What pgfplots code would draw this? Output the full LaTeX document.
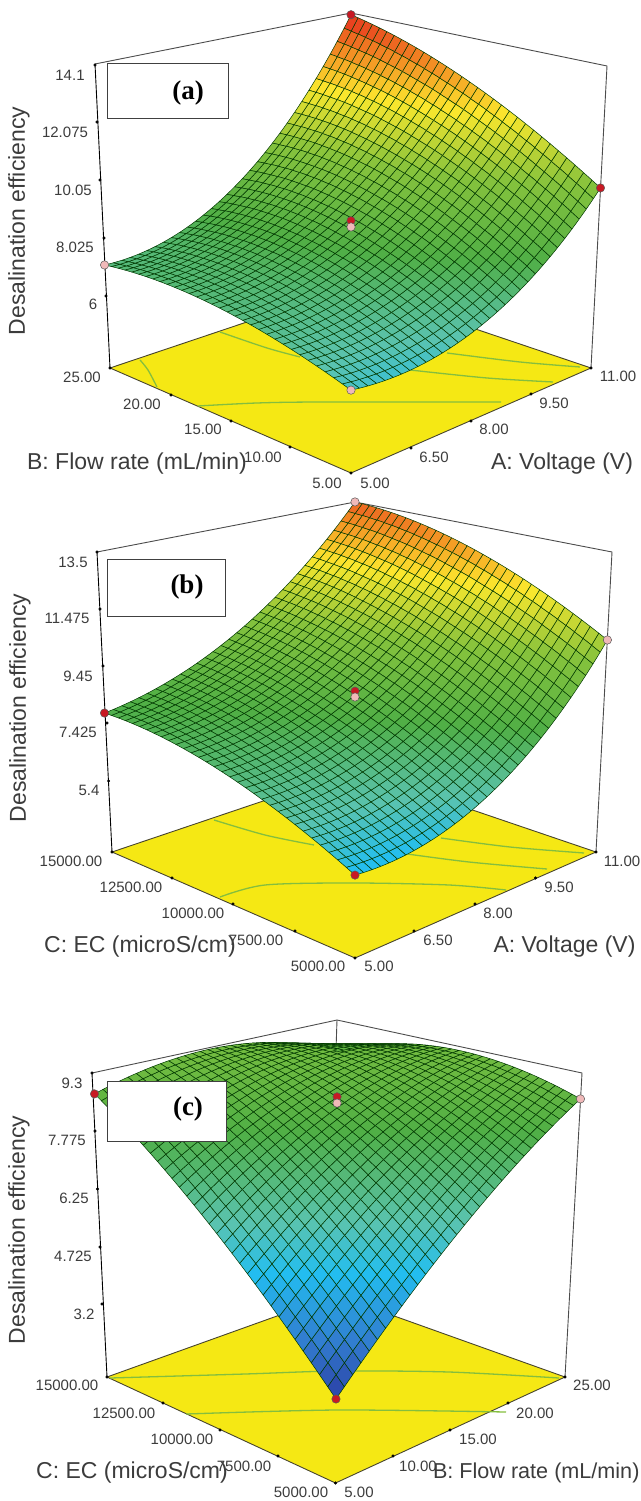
\documentclass[border=0pt]{standalone}
\usepackage{fontspec}
\setmainfont{Liberation Sans}
\newfontfamily\tnr{Liberation Serif}
\usepackage{pgfplots}
\usepackage{pgfplotstable}
\pgfplotsset{compat=1.18}
\usepgfplotslibrary{patchplots}

% ---- surface values: X, Y = factors, E = desalination efficiency (order: corners, edge middles, centre)
\pgfplotstableread{
X Y E
5 5 6.12
11 5 9.91
11 25 14.1
5 25 7.17
8 5 6.6
11 15 12.54
8 25 8.7
5 15 7.17
8 15 8.45
}\DataA
\pgfplotstableread{
X Y E
5 5000 5.5
11 5000 10.53
11 15000 13.5
5 15000 7.87
8 5000 6.43
11 10000 12.65
8 15000 9.55
5 10000 7.29
8 10000 8.55
}\DataB
\pgfplotstableread{
X Y E
5 5000 3.26
25 5000 8.61
25 15000 8.45
5 15000 8.77
15 5000 6.35
25 10000 9.2
15 15000 9.28
5 10000 6.39
15 10000 8.4
}\DataC
% ---- perspective of the three boxes
\newcommand\Ua{((\thisrow{X}-5)/6)}\newcommand\Va{((\thisrow{Y}-5)/20)}\newcommand\Wa{((\thisrow{E}-3.4)/10.7)}
\newcommand\Da{(1+0.1505*\Ua+0.1458*\Va-0.0718*\Wa)}
\newcommand\PXa{(351+328.96*\Ua-224.96*\Va-25.2*\Wa)/\Da}
\newcommand\PYa{(473-49.62*\Ua-51.35*\Va-354*\Wa)/\Da}
\newcommand\Ub{((\thisrow{X}-5)/6)}\newcommand\Vb{((\thisrow{Y}-5000)/10000)}\newcommand\Wb{((\thisrow{E}-2.7)/10.8)}
\newcommand\Db{(1+0.15108*\Ub+0.1416*\Vb-0.07167*\Wb)}
\newcommand\PXb{(355+331.04*\Ub-227.14*\Vb-25.44*\Wb)/\Db}
\newcommand\PYb{(958+22.72*\Ub+14.64*\Vb-382.5*\Wb)/\Db}
\newcommand\Uc{((\thisrow{X}-5)/20)}\newcommand\Vc{((\thisrow{Y}-5000)/10000)}\newcommand\Wc{((\thisrow{E}-1.16)/8.14)}
\newcommand\Dc{(1+0.14384*\Uc+0.14885*\Vc-0.07139*\Wc)}
\newcommand\PXc{(335.5+310.77*\Uc-212.57*\Vc-22.1*\Wc)/\Dc}
\newcommand\PYc{(1483+92.07*\Uc+98.97*\Vc-426*\Wc)/\Dc}

\definecolor{floorY}{RGB}{245,232,20}
\definecolor{contourG}{RGB}{132,190,62}
\definecolor{txt}{RGB}{60,60,60}
\definecolor{dotR}{RGB}{200,25,35}
\definecolor{dotP}{RGB}{240,185,185}
\newcommand\tl[3]{\node[text=txt,font=\fontsize{15}{17}\selectfont] at (#1,#2) {#3};}
\newcommand\al[3]{\node[text=txt,font=\fontsize{23}{26}\selectfont] at (#1,#2) {#3};}
\newcommand\alL[3]{\node[text=txt,anchor=west,font=\fontsize{23}{26}\selectfont] at (#1,#2) {#3};}
\newcommand\zl[2]{\node[text=txt,rotate=90,font=\fontsize{23}{26}\selectfont] at (#1,#2) {Desalination efficiency};}
\newcommand\tagbox[5]{\draw[draw=black!75,fill=white,line width=0.8pt] (#1,#3) rectangle (#2,#4);}
\newcommand\tagtxt[3]{\node[font=\tnr\bfseries\fontsize{27}{30}\selectfont] at (#1,#2) {#3};}
\pgfplotsset{
  pane/.style={at={(0,0)},anchor=south west,scale only axis,width=640pt,height=1501pt,
    xmin=0,xmax=640,ymin=0,ymax=1501,y dir=reverse,hide axis,clip=false,
    colormap={des}{rgb255(326pt)=(42,62,165); rgb255(420pt)=(50,120,205); rgb255(550pt)=(35,190,240);
      rgb255(640pt)=(90,195,175); rgb255(800pt)=(80,175,70); rgb255(1000pt)=(135,195,60);
      rgb255(1170pt)=(252,232,45); rgb255(1300pt)=(242,135,35); rgb255(1410pt)=(230,45,30)},
    point meta min=3.26,point meta max=14.1},
  surfmesh/.style={patch,patch type=biquadratic,patch refines=5,shader=faceted,
    faceted color=black!78!green,line width=0.5pt,point meta=\thisrow{E}},
  frame/.style={draw=black!70,line width=0.9pt,no markers,forget plot},
  zaxis/.style={draw=black,line width=0.9pt,no markers,forget plot},
  flooredge/.style={draw=black!65!olive,line width=0.9pt,fill=floorY,no markers},
  contour/.style={draw=contourG,line width=1.3pt,smooth,no markers},
  ticks/.style={only marks,mark=*,mark size=1.3pt,mark options={fill=black,draw=black}},
  dots/.style={only marks,mark=*,mark size=4.2pt,mark options={fill=#1,draw=black!65,line width=0.5pt}}
}

\begin{document}
\begin{tikzpicture}[x=1pt,y=1pt]
\path[use as bounding box] (0,0) rectangle (640pt,1501pt);

% ======================= (a)
\begin{axis}[pane]
\addplot[frame] coordinates {(95,64) (351,13) (607,66) (591,368)};
\addplot[zaxis] coordinates {(95,64) (110,368)};
\addplot[flooredge] coordinates {(351,473) (591,368) (351,287) (110,368)} -- cycle;
\addplot[contour] coordinates {(140,360) (148,370) (157,387)};
\addplot[contour] coordinates {(220,332) (267,348) (300,357)};
\addplot[contour] coordinates {(198,406) (257,403) (320,402) (487,402) (497,402)};
\addplot[contour] coordinates {(410,370) (487,378) (553,382)};
\addplot[contour] coordinates {(447,353) (520,362) (580,367)};
\addplot[ticks] coordinates {(95,65) (97,122) (100,180) (104,238) (106,296) (110,368) (351,473) (591,368)
  (171,395) (231,421) (290,447) (411,448) (471,421) (531,394)};
\addplot[surfmesh] table[x expr=\PXa,y expr=\PYa] {\DataA};
\addplot[dots=dotR] table[x expr=\PXa,y expr=\PYa,row sep=crcr] {X Y E\\
11 5 9.91\\
11 25 14.1\\
8 15 8.75\\
};
\addplot[dots=dotP] table[x expr=\PXa,y expr=\PYa,row sep=crcr] {X Y E\\
5 5 6.12\\
5 25 7.17\\
8 15 8.53\\
};
\tagbox{107}{228}{63}{118}{}
\tagtxt{188}{93}{(a)}
\tl{70}{75}{14.1}\tl{65}{132}{12.075}\tl{73}{190}{10.05}\tl{75}{247}{8.025}\tl{93}{304}{6}
\zl{19}{221}
\tl{82}{377}{25.00}\tl{142}{404}{20.00}\tl{203}{429}{15.00}\tl{263}{457}{10.00}\tl{327}{483}{5.00}
\tl{375}{483}{5.00}\tl{434}{457}{6.50}\tl{494}{429}{8.00}\tl{554}{403}{9.50}\tl{618}{376}{11.00}
\al{137}{464}{B: Flow rate (mL/min)}
\al{562}{464}{A: Voltage (V)}
\end{axis}

% ======================= (b)
\begin{axis}[pane]
\addplot[frame] coordinates {(97,552) (355,502) (612,552) (596,852)};
\addplot[zaxis] coordinates {(97,552) (112,852)};
\addplot[flooredge] coordinates {(355,958) (596,852) (355,770) (112,852)} -- cycle;
\addplot[contour] coordinates {(214,820) (265,835) (314,845)};
\addplot[contour] coordinates {(220,897) (265,885) (354,883) (449,885) (506,890)};
\addplot[contour] coordinates {(400,853) (469,862) (547,869)};
\addplot[contour] coordinates {(441,838) (510,847) (584,853)};
\addplot[ticks] coordinates {(97,552) (100,609) (103,666) (107,723) (108.6,781) (112,852) (355,958) (596,852)
  (172,878) (233,904) (295,931) (414,931) (475,904) (535.5,878)};
\addplot[surfmesh] table[x expr=\PXb,y expr=\PYb] {\DataB};
\addplot[dots=dotR] table[x expr=\PXb,y expr=\PYb,row sep=crcr] {X Y E\\
5 5000 5.5\\
5 15000 7.87\\
8 10000 8.68\\
};
\addplot[dots=dotP] table[x expr=\PXb,y expr=\PYb,row sep=crcr] {X Y E\\
11 5000 10.53\\
11 15000 13.5\\
8 10000 8.47\\
};
\tagbox{107}{225}{559}{616}{}
\tagtxt{187}{587}{(b)}
\tl{73}{562}{13.5}\tl{67}{618}{11.475}\tl{78}{676}{9.45}\tl{78}{732}{7.425}\tl{89}{790}{5.4}
\zl{20}{708}
\tl{71}{861}{15000.00}\tl{131}{887}{12500.00}\tl{193}{913}{10000.00}\tl{256}{940}{7500.00}\tl{318}{966}{5000.00}
\tl{379}{966}{5.00}\tl{438}{940}{6.50}\tl{498}{913}{8.00}\tl{559}{887}{9.50}\tl{622}{861}{11.00}
\al{140}{947}{C: EC (microS/cm)}
\alL{490}{947}{A: Voltage (V)}
\end{axis}

% ======================= (c)
\begin{axis}[pane]
\addplot[frame] coordinates {(92,1073) (337,1020) (582,1073) (565,1377)};
\addplot[frame] coordinates {(337,1020) (336,1050)};
\addplot[zaxis] coordinates {(92,1073) (107,1377)};
\addplot[flooredge] coordinates {(335.5,1483) (565,1377) (335.5,1295) (107,1377)} -- cycle;
\addplot[contour] coordinates {(110,1378) (245,1374) (337,1371) (449,1372) (559,1378)};
\addplot[contour] coordinates {(186,1414) (337,1410) (506,1412)};
\addplot[ticks] coordinates {(92,1073) (95,1131) (97.5,1189) (100,1247) (102,1304) (107,1377) (335.5,1483) (565,1377)
  (163,1403) (220,1430) (278,1456) (393,1456) (450,1430) (508,1403)};
\addplot[surfmesh] table[x expr=\PXc,y expr=\PYc] {\DataC};
\addplot[dots=dotR] table[x expr=\PXc,y expr=\PYc,row sep=crcr] {X Y E\\
5 5000 3.26\\
5 15000 8.77\\
15 10000 8.68\\
};
\addplot[dots=dotP] table[x expr=\PXc,y expr=\PYc,row sep=crcr] {X Y E\\
25 5000 8.61\\
15 10000 8.52\\
};
\tagbox{107}{226.5}{1081}{1141}{}
\tagtxt{188}{1109}{(c)}
\tl{72}{1083}{9.3}\tl{67}{1140}{7.775}\tl{74}{1198}{6.25}\tl{73}{1256}{4.725}\tl{84}{1314}{3.2}
\zl{19}{1230}
\tl{67}{1385}{15000.00}\tl{124}{1413}{12500.00}\tl{182}{1439}{10000.00}\tl{244}{1466}{7500.00}\tl{301}{1492}{5000.00}
\tl{359}{1492}{5.00}\tl{418}{1466}{10.00}\tl{478}{1439}{15.00}\tl{535}{1413}{20.00}\tl{592}{1385}{25.00}
\al{132}{1473}{C: EC (microS/cm)}
\node[text=txt,anchor=west,font=\fontsize{21.6}{24}\selectfont] at (429.5,1473) {B: Flow rate (mL/min)};
\end{axis}
\end{tikzpicture}
\end{document}
